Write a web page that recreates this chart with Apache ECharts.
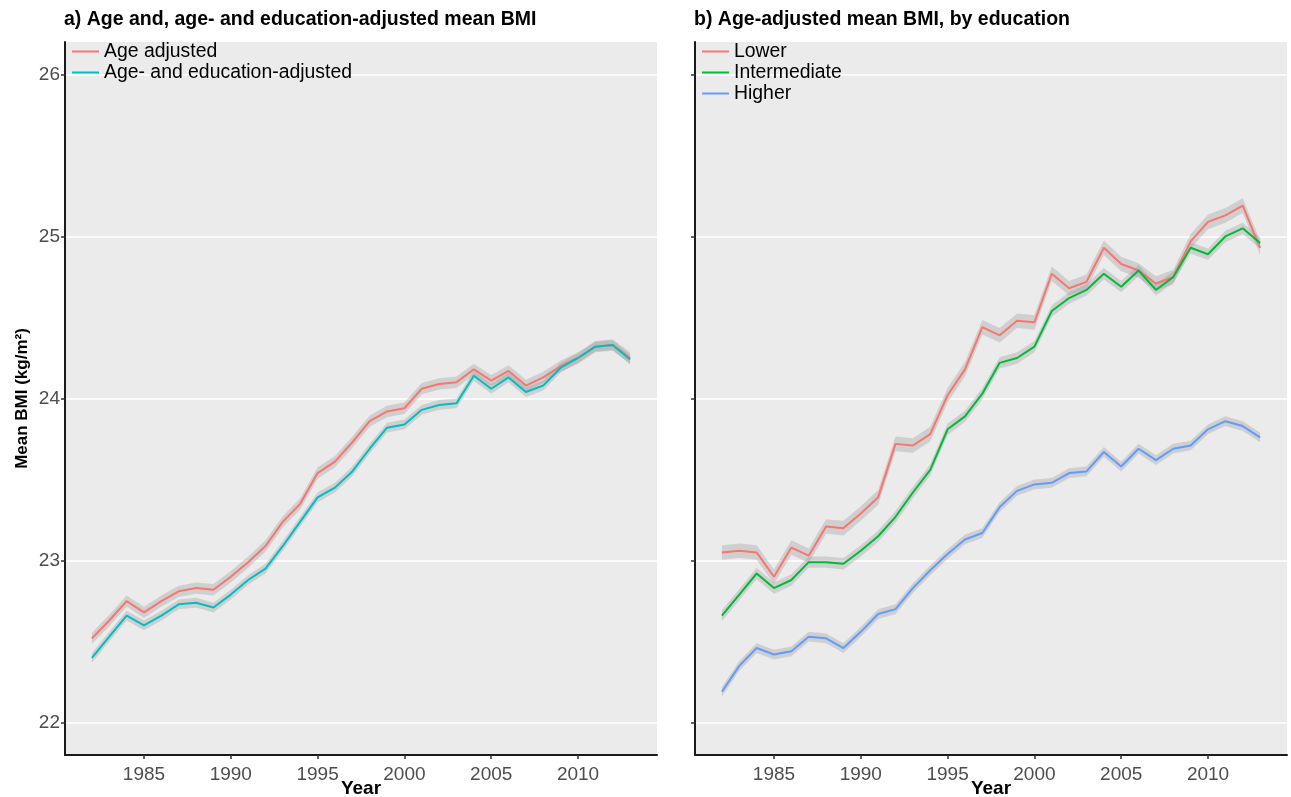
<!DOCTYPE html>
<html>
<head>
<meta charset="utf-8">
<script src="https://cdn.jsdelivr.net/npm/echarts@6/dist/echarts.min.js"></script>
<style>
html,body{margin:0;padding:0;background:#fff;}
#chart{width:1291px;height:797px;}
</style>
</head>
<body>
<div id="chart"></div>
<script>
// ---- data ----
const years = [1982,1983,1984,1985,1986,1987,1988,1989,1990,1991,1992,1993,1994,1995,1996,1997,1998,1999,2000,2001,2002,2003,2004,2005,2006,2007,2008,2009,2010,2011,2012,2013];
const xTicks = [1985,1990,1995,2000,2005,2010];
const yTicks = [22,23,24,25,26];

// panel a
const ageAdjusted = [22.52,22.63,22.75,22.68,22.75,22.81,22.83,22.82,22.90,22.99,23.09,23.24,23.35,23.54,23.61,23.73,23.86,23.92,23.94,24.06,24.09,24.10,24.18,24.11,24.17,24.08,24.13,24.20,24.25,24.32,24.33,24.25];
const ageEduAdjusted = [22.40,22.53,22.66,22.60,22.66,22.73,22.74,22.71,22.79,22.88,22.95,23.09,23.24,23.39,23.45,23.55,23.69,23.82,23.84,23.93,23.96,23.97,24.14,24.06,24.13,24.04,24.08,24.19,24.25,24.32,24.33,24.24];
// panel b
const lowerEdu = [23.05,23.06,23.05,22.90,23.08,23.03,23.21,23.20,23.29,23.39,23.72,23.71,23.78,24.02,24.18,24.44,24.39,24.48,24.47,24.77,24.68,24.72,24.93,24.83,24.79,24.71,24.75,24.97,25.09,25.13,25.19,24.93];
const intermediateEdu = [22.66,22.79,22.92,22.83,22.88,22.99,22.99,22.98,23.06,23.15,23.27,23.42,23.56,23.81,23.89,24.03,24.22,24.25,24.32,24.54,24.62,24.67,24.77,24.69,24.79,24.67,24.75,24.93,24.89,25.00,25.05,24.96];
const higherEdu = [22.19,22.35,22.46,22.42,22.44,22.53,22.52,22.46,22.56,22.67,22.70,22.83,22.94,23.04,23.13,23.17,23.33,23.43,23.47,23.48,23.54,23.55,23.67,23.58,23.69,23.62,23.69,23.71,23.81,23.86,23.83,23.76];
// confidence band half-widths (estimated)
const ciAgeAdjusted = 0.035;
const ciAgeEdu = 0.03;
const ciLower = 0.045;
const ciIntermediate = 0.035;
const ciHigher = 0.03;

// ---- build ----
const FONT = "'Liberation Sans', Arial, Helvetica, sans-serif";
const RIBBON = 'rgba(150,150,150,0.32)';

function pairs(vals){ return years.map((y,i)=>[y, vals[i]]); }
function ribbon(vals, ci, idx){
  return {
    type:'custom', xAxisIndex:idx, yAxisIndex:idx, silent:true, z:1, clip:true,
    data: years.map((y,i)=>[y, vals[i]-ci, vals[i]+ci]),
    encode:{x:0, y:[1,2]},
    renderItem: function(params, api){
      if (params.dataIndex !== 0) return null;
      const up = [], lo = [];
      for (let i=0;i<years.length;i++){
        up.push(api.coord([years[i], vals[i]+ci]));
        lo.push(api.coord([years[i], vals[i]-ci]));
      }
      const pts = up.concat(lo.reverse());
      return {type:'polygon', shape:{points:pts}, style:{fill:RIBBON, stroke:null}};
    }
  };
}
function line(name, vals, color, idx){
  return {type:'line', name:name, xAxisIndex:idx, yAxisIndex:idx, data:pairs(vals), symbol:'none',
          lineStyle:{width:2, color:color}, itemStyle:{color:color}, z:3};
}

function xAxis(idx){
  return {
    type:'value', gridIndex:idx, min:1980.45, max:2014.55,
    axisLine:{show:true, onZero:false, lineStyle:{color:'#1a1a1a', width:2}},
    axisTick:{show:true, length:4, customValues:xTicks, lineStyle:{color:'#333', width:1.5}},
    axisLabel:{customValues:xTicks, fontSize:19, color:'#4d4d4d', fontFamily:FONT, margin:10,
               formatter: v => String(v)},
    splitLine:{show:false},
    name:'Year', nameLocation:'middle', nameGap:24, nameMoveOverlap:false,
    nameTextStyle:{fontSize:19, fontWeight:'bold', color:'#000', fontFamily:FONT}
  };
}
function yAxis(idx, showLabels){
  const ax = {
    type:'value', gridIndex:idx, min:21.8, max:26.2,
    axisLine:{show:true, onZero:false, lineStyle:{color:'#1a1a1a', width:2}},
    axisTick:{show:true, length:4, customValues:yTicks, lineStyle:{color:'#333', width:1.5}},
    axisLabel:{show:showLabels, customValues:yTicks, fontSize:19, color:'#4d4d4d', fontFamily:FONT, margin:5,
               formatter: v => String(v)},
    splitLine:{show:true, lineStyle:{color:'#ffffff', width:1.6}}
  };
  if (showLabels){
    ax.name = 'Mean BMI (kg/m²)';
    ax.nameLocation = 'middle';
    ax.nameGap = 34;
    ax.nameMoveOverlap = false;
    ax.nameTextStyle = {fontSize:17, fontWeight:'bold', color:'#000', fontFamily:FONT};
  }
  return ax;
}

const option = {
  animation:false,
  backgroundColor:'#ffffff',
  textStyle:{fontFamily:FONT},
  title:[
    {text:'a) Age and, age- and education-adjusted mean BMI', left:64, top:10, padding:0,
     textStyle:{fontSize:19.5, fontWeight:'bold', color:'#000', fontFamily:FONT}},
    {text:'b) Age-adjusted mean BMI, by education', left:694, top:10, padding:0,
     textStyle:{fontSize:19.5, fontWeight:'bold', color:'#000', fontFamily:FONT}}
  ],
  legend:[
    {data:['Age adjusted','Age- and education-adjusted'], left:72, top:42, orient:'vertical', padding:0,
     icon:'rect', itemWidth:27, itemHeight:2, itemGap:2,
     textStyle:{fontSize:19.4, color:'#000', lineHeight:19, fontFamily:FONT}},
    {data:['Lower','Intermediate','Higher'], left:702, top:42, orient:'vertical', padding:0,
     icon:'rect', itemWidth:27, itemHeight:2, itemGap:2,
     textStyle:{fontSize:19.4, color:'#000', lineHeight:19, fontFamily:FONT}}
  ],
  grid:[
    {left:65, top:42, width:592, height:713, show:true, backgroundColor:'#EBEBEB', borderWidth:0,
     containLabel:false, outerBoundsMode:'none'},
    {left:695, top:42, width:592, height:713, show:true, backgroundColor:'#EBEBEB', borderWidth:0,
     containLabel:false, outerBoundsMode:'none'}
  ],
  xAxis:[xAxis(0), xAxis(1)],
  yAxis:[yAxis(0,true), yAxis(1,false)],
  series:[
    ribbon(ageAdjusted, ciAgeAdjusted, 0),
    ribbon(ageEduAdjusted, ciAgeEdu, 0),
    ribbon(lowerEdu, ciLower, 1),
    ribbon(intermediateEdu, ciIntermediate, 1),
    ribbon(higherEdu, ciHigher, 1),
    line('Age adjusted', ageAdjusted, '#F8766D', 0),
    line('Age- and education-adjusted', ageEduAdjusted, '#00BFC4', 0),
    line('Lower', lowerEdu, '#F8766D', 1),
    line('Intermediate', intermediateEdu, '#00BA38', 1),
    line('Higher', higherEdu, '#619CFF', 1)
  ]
};

const chart = echarts.init(document.getElementById('chart'), null, {renderer:'canvas'});
chart.setOption(option);
</script>
</body>
</html>
